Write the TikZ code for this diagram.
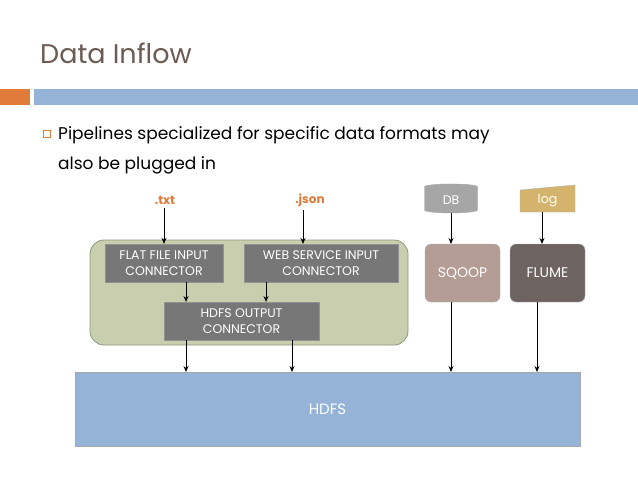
\documentclass[tikz,border=0pt]{standalone}
\usepackage{fontspec}
\setmainfont{Poppins}
\usetikzlibrary{shapes.geometric,arrows.meta}
\definecolor{titlec}{HTML}{6B5B52}
\definecolor{orangec}{HTML}{E07B39}
\definecolor{bluec}{HTML}{95B3D7}
\definecolor{greenc}{HTML}{C9CFAE}
\definecolor{greenb}{HTML}{8A9A80}
\definecolor{boxc}{HTML}{777777}
\definecolor{sqoopc}{HTML}{B49D95}
\definecolor{flumec}{HTML}{6D6361}
\definecolor{logc}{HTML}{D4B46C}
\definecolor{dbc}{HTML}{A6A6A6}
\tikzset{
 gbox/.style={draw=boxc!80!white,fill=boxc,text=white,font=\fontsize{12.5}{16}\selectfont,align=center,inner sep=0pt},
 arr/.style={-{Stealth[length=6pt,width=5pt]},line width=0.8pt},
 lbl/.style={text=orangec,font=\bfseries\fontsize{12}{14}\selectfont}
}
\begin{document}
\begin{tikzpicture}[x=1pt,y=-1pt]
\useasboundingbox (0,0) rectangle (638,479);
\fill[white] (0,0) rectangle (638,479);
\node[anchor=base west,text=titlec,font=\fontsize{27}{32}\selectfont,inner sep=0pt] (title) at (40,63) {Data Inflow};
\fill[orangec] (0,89) rectangle (30,105);
\fill[bluec] (34,89) rectangle (638,105);
\draw[orangec,line width=0.7pt] (43,130) rectangle (50,137);
\node[anchor=base west,align=left,font=\fontsize{17}{30}\selectfont,inner sep=0pt] (bul) at (58,139) {Pipelines specialized for specific data formats may};
\node[anchor=base west,font=\fontsize{17}{30}\selectfont,inner sep=0pt] (bul2) at (58,169) {also be plugged in};
% container
\draw[greenb,fill=greenc,line width=0.8pt,rounded corners=14pt] (90,240) rectangle (408,345);
\node[gbox,minimum width=118pt,minimum height=38pt] (flat) at (164,263) {FLAT FILE INPUT\\CONNECTOR};
\node[gbox,minimum width=154pt,minimum height=38pt] (web) at (321,263) {WEB SERVICE INPUT\\CONNECTOR};
\node[gbox,minimum width=155pt,minimum height=38pt] (out) at (241.5,321) {HDFS OUTPUT\\CONNECTOR};
\node[draw=gray!70,fill=bluec,text=white,minimum width=505pt,minimum height=74pt,font=\fontsize{15}{18}\selectfont] (hdfs) at (327.5,409) {HDFS};
\node[lbl] (txt) at (165,200) {.txt};
\node[lbl] (json) at (310,200) {.json};
\node[cylinder,shape border rotate=90,draw=gray!70,fill=dbc,text=white,minimum width=53pt,minimum height=29pt,aspect=0.35,inner sep=0pt,font=\fontsize{12.5}{14}\selectfont] (db) at (451,200) {DB};
\draw[gray!60,fill=logc] (520,190) -- (575,185) -- (575,212) -- (520,212) -- cycle;
\node[text=white,font=\fontsize{12.5}{14}\selectfont] (log) at (547.5,201) {log};
\node[draw=gray!60,fill=sqoopc,text=white,rounded corners=6pt,minimum width=75pt,minimum height=58pt,font=\fontsize{14}{16}\selectfont] (sqoop) at (462.5,273) {SQOOP};
\node[draw=gray!60,fill=flumec,text=white,rounded corners=6pt,minimum width=75pt,minimum height=58pt,font=\fontsize{14}{16}\selectfont] (flume) at (547.5,273) {FLUME};
\coordinate (logb) at (542,212);
\draw[arr] (txt.south -| flat.north) -- (flat.north);
\draw[arr] (json.south -| 303,0) -- (303,244);
\draw[arr] (186,282) -- (186,302);
\draw[arr] (266,282) -- (266,302);
\draw[arr] (186,340) -- (186,372);
\draw[arr] (292,340) -- (292,372);
\draw[arr] (db.south) -- (451,244);
\draw[arr] (logb) -- (542,244);
\draw[arr] (451,302) -- (451,372);
\draw[arr] (537,302) -- (537,372);
\end{tikzpicture}
\end{document}
